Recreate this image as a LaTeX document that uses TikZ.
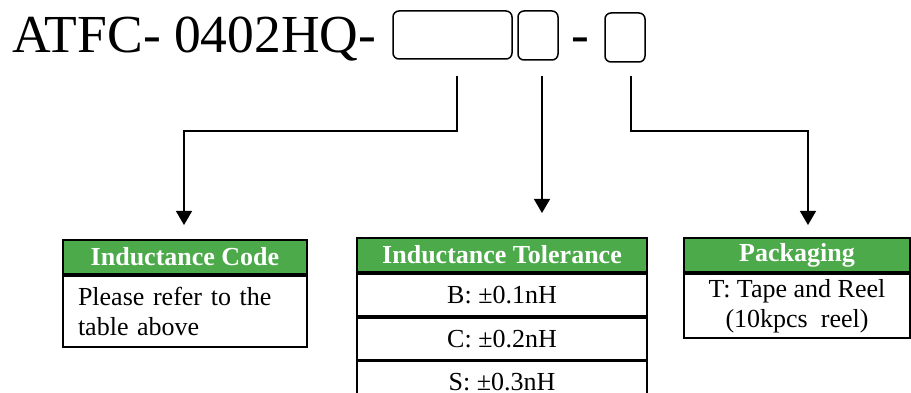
\documentclass[tikz,border=0pt]{standalone}
\usepackage{fontspec}
\setmainfont{Liberation Serif}
\usetikzlibrary{positioning,arrows.meta}
\definecolor{hdrgreen}{RGB}{76,170,74}

\begin{document}
\begin{tikzpicture}[x = 1pt, y = -1pt,
    slot/.style = {draw, line width = 1.5pt, rounded corners = 6pt, inner sep = 0pt},
    title/.style = {anchor = base, inner sep = 0pt, font = \fontsize{53.5}{54}\selectfont},
    hdr/.style = {draw, line width = 1.8pt, fill = hdrgreen, text = white,
        font = \fontsize{26}{30}\selectfont\bfseries, inner sep = 0pt, minimum height = 34},
    cell/.style = {draw, line width = 1.8pt, inner sep = 0pt,
        font = \fontsize{26}{30}\selectfont},
    feed/.style = {line width = 1.3pt, -{Triangle[width = 16pt, length = 14pt]}}]

    \clip (0,0) rectangle (911,393);

    % part number
    \node[title, anchor = base west] (pn) at (12,53) {ATFC- 0402HQ-};
    \node[slot, minimum width = 119, minimum height = 48] (slotA) at (452.5,35) {};
    \node[slot, minimum width = 40, minimum height = 49] (slotB) at (538,35.5) {};
    \node[title] (dash) at (580,53) {-};
    \node[slot, minimum width = 40, minimum height = 49] (slotC) at (625,37.5) {};

    % inductance code
    \node[hdr, minimum width = 244] (codehdr) at (185,257) {Inductance Code};
    \node[cell, anchor = north, minimum width = 244, minimum height = 71,
        text width = 214, inner xsep = 15pt, align = left]
        (codebody) at (codehdr.south) {Please refer to the\\table above};

    % inductance tolerance
    \node[hdr, minimum width = 290] (tolhdr) at (502,255) {Inductance Tolerance};
    \node[cell, anchor = north, minimum width = 290, minimum height = 42]
        (tolB) at (tolhdr.south) {B: ±0.1nH};
    \node[cell, anchor = north, minimum width = 290, minimum height = 42]
        (tolC) at (tolB.south) {C: ±0.2nH};
    \node[cell, anchor = north, minimum width = 290, minimum height = 42]
        (tolS) at (tolC.south) {S: ±0.3nH};

    % packaging
    \node[hdr, minimum width = 226] (packhdr) at (797,255) {Packaging};
    \node[cell, anchor = north, minimum width = 226, minimum height = 64, align = center]
        (packbody) at (packhdr.south) {T: Tape and Reel\\(10kpcs\ \ reel)};

    % leaders
    \coordinate (from1) at (457,76);
    \coordinate (from2) at (542,76);
    \coordinate (from3) at (631,76);
    \coordinate (to1) at (184,225);
    \coordinate (to2) at (542,213);
    \coordinate (to3) at (808,225);

    \draw[feed] (from1) -- (457,131) -| (to1);
    \draw[feed] (from2) -- (to2);
    \draw[feed] (from3) -- (631,131) -| (to3);
\end{tikzpicture}
\end{document}
